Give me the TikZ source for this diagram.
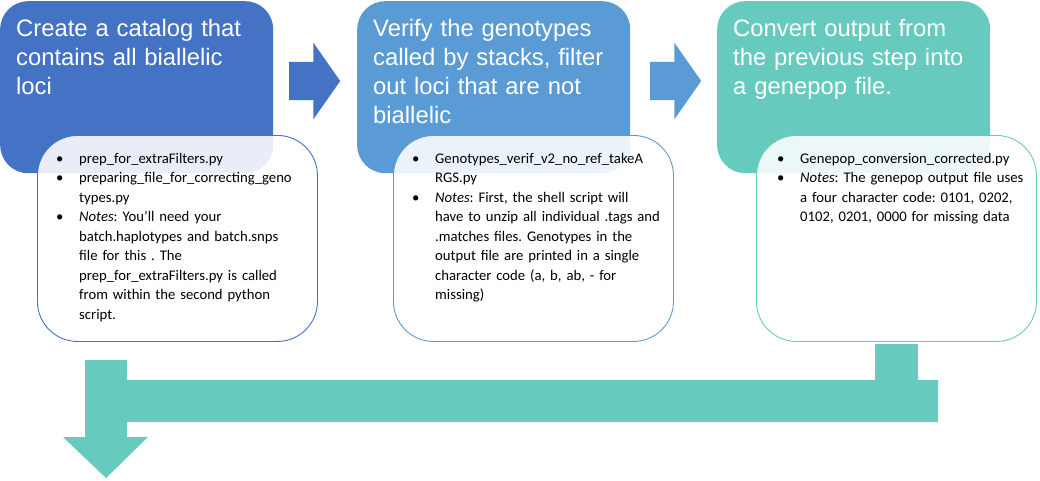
\documentclass[tikz,border=0pt]{standalone}
\usepackage{fontspec}
\setmainfont{Carlito}
\newfontfamily\headfont{Liberation Sans}
\usepackage{xcolor}
\usetikzlibrary{shapes.arrows, positioning}
\frenchspacing

\definecolor{stepblue}{HTML}{4472C4}
\definecolor{stepsky}{HTML}{5B9BD5}
\definecolor{stepteal}{HTML}{67CABF}

% one bullet line with hanging indent
\newcommand{\bulletitem}[1]{\noindent\hangindent=23pt\hangafter=1\makebox[23pt][l]{\textbullet}\ignorespaces#1\par}

\tikzset{
	headbox/.style={rounded corners=28pt, minimum width=273pt, minimum height=172pt, anchor=north west, inner sep=0pt},
	headtext/.style={anchor=base west, text=white, text width=265pt, align=left, inner sep=0pt, font=\headfont\fontsize{23.8}{29.3}\selectfont},
	notebox/.style={rounded corners=40pt, fill=white, fill opacity=0.88, line width=0.9pt, minimum width=280pt, minimum height=206pt, anchor=north west, inner sep=0pt},
	notetext/.style={anchor=base west, text width=270pt, align=left, inner sep=0pt, font=\fontsize{14.7}{19.5}\selectfont},
	steparrow/.style={single arrow, anchor=tail, minimum height=51pt, minimum width=0pt, single arrow head extend=19pt, single arrow tip angle=110, inner xsep=0pt, inner ysep=19pt}
}

\begin{document}
\begin{tikzpicture}[x=1pt, y=-1pt]
			\useasboundingbox (0,0) rectangle (1040,480);
			
			% Draw the three step boxes
			\node[headbox, fill=stepblue] (catalog) at (0,1) {};
			\node[headbox, fill=stepsky] (verify) at (357,1) {};
			\node[headbox, fill=stepteal] (convert) at (717,1) {};
			
			% Draw arrows between the steps
			\node[steparrow, fill=stepblue] (arrA) at (289,81) {};
			\node[steparrow, fill=stepsky] (arrB) at (650,81) {};
			
			% Draw the bent arrow at the bottom
			\fill[stepteal] (85,360) -- (127,360) -- (127,380) -- (875,380) -- (875,344) -- (918,344) -- (918,380) -- (938,380) -- (938,422) -- (127,422) -- (127,437) -- (148,437) -- (106,478) -- (63,437) -- (85,437) -- cycle;
			
			% Draw the note boxes
			\node[notebox, draw=stepblue] (catalogN) at (37,135) {};
			\node[notebox, draw=stepsky] (verifyN) at (393,135) {};
			\node[notebox, draw=stepteal] (convertN) at (756,135) {};
			
			% Step titles
			\node[headtext] (catalogT) at ([shift={(16,35)}]catalog.north west) {Create a catalog that\newline contains all biallelic\newline loci};
			\node[headtext] (verifyT) at ([shift={(16,35)}]verify.north west) {Verify the genotypes\newline called by stacks, filter\newline out loci that are not\newline biallelic};
			\node[headtext] (convertT) at ([shift={(16,35)}]convert.north west) {Convert output from\newline the previous step into\newline a genepop file.};
			
			% Notes
			\node[notetext] (catalogL) at ([shift={(19,28)}]catalogN.north west) {%
				\bulletitem{prep\_for\_extraFilters.py}
				\bulletitem{preparing\_file\_for\_correcting\_geno\newline types.py}
				\bulletitem{\textit{Notes}: You'll need your\newline batch.haplotypes and batch.snps\newline file for this . The\newline prep\_for\_extraFilters.py is called\newline from within the second python\newline script.}};
			\node[notetext] (verifyL) at ([shift={(19,28)}]verifyN.north west) {%
				\bulletitem{Genotypes\_verif\_v2\_no\_ref\_takeA\newline RGS.py}
				\bulletitem{\textit{Notes}: First, the shell script will\newline have to unzip all individual .tags and\newline .matches files. Genotypes in the\newline output file are printed in a single\newline character code (a, b, ab, - for\newline missing)}};
			\node[notetext] (convertL) at ([shift={(21,28)}]convertN.north west) {%
				\bulletitem{Genepop\_conversion\_corrected.py}
				\bulletitem{\textit{Notes}: The genepop output file uses\newline a four character code: 0101, 0202,\newline 0102, 0201, 0000 for missing data}};
			
		\end{tikzpicture}
\end{document}
